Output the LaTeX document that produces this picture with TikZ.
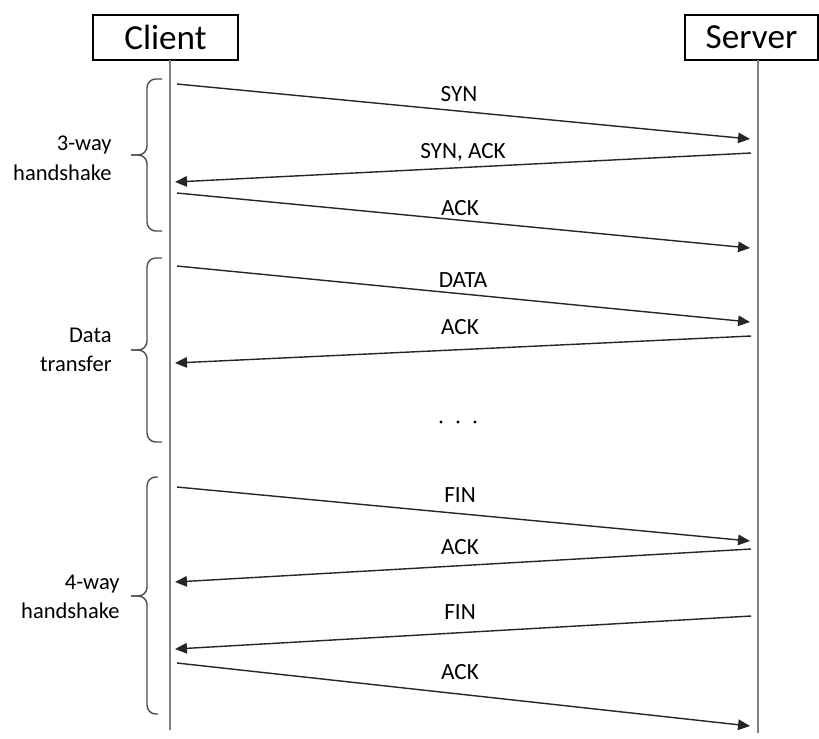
\documentclass[tikz,border=0pt]{standalone}
\usepackage{fontspec}
\setmainfont{Carlito}
\usetikzlibrary{positioning}
\usetikzlibrary{arrows.meta}

\begin{document}
\begin{tikzpicture}[x=0.01cm, y=-0.01cm,
        % Boxes for the two parties
        actor/.style={draw, line width=0.6pt, inner sep=0pt,
        minimum height=0.45cm, font=\fontsize{10}{12}\selectfont},
        % Vertical time lines
        lifeline/.style={draw=gray, line width=0.45pt},
        % Messages and their labels
        msg/.style={draw=black!85, line width=0.4pt,
        -{Triangle[length=3.4pt, width=3pt]}},
        msgtext/.style={font=\fontsize{6.6}{8}\selectfont},
        % Braces grouping the phases
        phase/.style={draw=black!70, line width=0.4pt, rounded corners=2.5},
        phasetext/.style={font=\fontsize{6.4}{8.4}\selectfont, align=right, anchor=east}
    ]

    \useasboundingbox (0,0) rectangle (819,738);

    % --- Parties ---
    \node[actor, minimum width=1.45cm] (client) at (165.5,37.5) {Client};
    \node[actor, minimum width=1.33cm] (server) at (751.5,37.5) {Server};

    % --- Lifelines ---
    \coordinate (client_top) at (170,60);
    \coordinate (client_bot) at (170,730);
    \coordinate (server_top) at (758,60);
    \coordinate (server_bot) at (758,733);
    \draw[lifeline] (client_top) -- (client_bot);
    \draw[lifeline] (server_top) -- (server_bot);

    % --- 3-way handshake ---
    \coordinate (syn_c) at (177,84);   \coordinate (syn_s) at (750,139);
    \coordinate (synack_s) at (751,153); \coordinate (synack_c) at (175,182);
    \coordinate (ack1_c) at (177,193); \coordinate (ack1_s) at (750,248);
    \draw[msg] (syn_c) -- (syn_s);
    \draw[msg] (synack_s) -- (synack_c);
    \draw[msg] (ack1_c) -- (ack1_s);
    \node[msgtext] (syn) at (459,94) {SYN};
    \node[msgtext] (synack) at (463,152) {SYN, ACK};
    \node[msgtext] (ack1) at (460,208) {ACK};

    % --- Data transfer ---
    \coordinate (data_c) at (177,266); \coordinate (data_s) at (750,322);
    \coordinate (ack2_s) at (751,336); \coordinate (ack2_c) at (175,363);
    \draw[msg] (data_c) -- (data_s);
    \draw[msg] (ack2_s) -- (ack2_c);
    \node[msgtext] (data) at (463,280) {DATA};
    \node[msgtext] (ack2) at (460,327) {ACK};
    \foreach \x in {441,458,475}
        \fill (\x,422) circle (1.7);

    % --- 4-way handshake ---
    \coordinate (fin1_c) at (177,487); \coordinate (fin1_s) at (750,541);
    \coordinate (ack3_s) at (751,549); \coordinate (ack3_c) at (175,582);
    \coordinate (fin2_s) at (751,616); \coordinate (fin2_c) at (175,649);
    \coordinate (ack4_c) at (177,663); \coordinate (ack4_s) at (750,726);
    \draw[msg] (fin1_c) -- (fin1_s);
    \draw[msg] (ack3_s) -- (ack3_c);
    \draw[msg] (fin2_s) -- (fin2_c);
    \draw[msg] (ack4_c) -- (ack4_s);
    \node[msgtext] (fin1) at (460,495) {FIN};
    \node[msgtext] (ack3) at (460,547) {ACK};
    \node[msgtext] (fin2) at (460,612) {FIN};
    \node[msgtext] (ack4) at (460,672) {ACK};

    % --- Phase braces and names ---
    \draw[phase] (162,79) -| (147,155) -- (131,155);
    \draw[phase] (131,155) -- (147,155) |- (162,231);
    \draw[phase] (162,258) -| (147,350) -- (131,350);
    \draw[phase] (131,350) -- (147,350) |- (162,442);
    \draw[phase] (158,477) -| (147,596) -- (131,596);
    \draw[phase] (131,596) -- (147,596) |- (158,714);
    \node[phasetext] (hs3) at (124,158) {3-way\\handshake};
    \node[phasetext] (xfer) at (124,350) {Data\\transfer};
    \node[phasetext] (hs4) at (132,597) {4-way\\handshake};

\end{tikzpicture}
\end{document}
